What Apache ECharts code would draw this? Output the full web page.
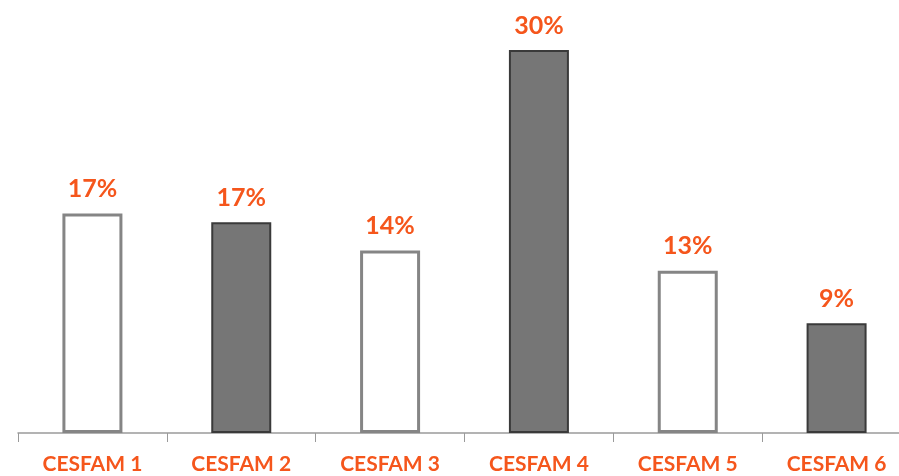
<!DOCTYPE html>
<html>
<head>
<meta charset="utf-8">
<script src="https://cdn.jsdelivr.net/npm/echarts@6/dist/echarts.min.js"></script>
<style>
  html, body { margin: 0; padding: 0; background: #fff; }
  #chart { width: 899px; height: 476px; }
</style>
</head>
<body>
<div id="chart"></div>
<script>
// data
const categories = ['CESFAM 1', 'CESFAM 2', 'CESFAM 3', 'CESFAM 4', 'CESFAM 5', 'CESFAM 6'];
const values = [17.2, 16.5, 14.3, 30.0, 12.7, 8.6];
const labels = ['17%', '17%', '14%', '30%', '13%', '9%'];
const filled = [false, true, false, true, false, true];

const orange = '#f5561c';

const chart = echarts.init(document.getElementById('chart'));

chart.setOption({
  animation: false,
  grid: { left: 18, width: 893, top: 50, bottom: 43, outerBoundsMode: 'none', containLabel: false },
  xAxis: {
    type: 'category',
    data: categories,
    axisLine: { lineStyle: { color: '#9a9a9a', width: 1.5 } },
    axisTick: { show: true, length: 9, lineStyle: { color: '#9a9a9a' } },
    axisLabel: {
      color: orange,
      fontFamily: 'Lato',
      fontWeight: 'bold',
      fontSize: 21,
      margin: 21
    }
  },
  yAxis: {
    type: 'value',
    min: 0,
    max: 30,
    show: false,
    splitLine: { show: false }
  },
  series: [{
    type: 'bar',
    barWidth: 60,
    data: values.map((v, i) => ({
      value: v,
      itemStyle: filled[i]
        ? { color: '#767676', borderColor: '#3a3a3a', borderWidth: 2 }
        : { color: '#ffffff', borderColor: '#858585', borderWidth: 3 }
    })),
    label: {
      show: true,
      position: 'top',
      distance: 12,
      color: orange,
      fontFamily: 'Lato',
      fontWeight: 'bold',
      fontSize: 25,
      formatter: p => labels[p.dataIndex]
    }
  }]
});
</script>
</body>
</html>
